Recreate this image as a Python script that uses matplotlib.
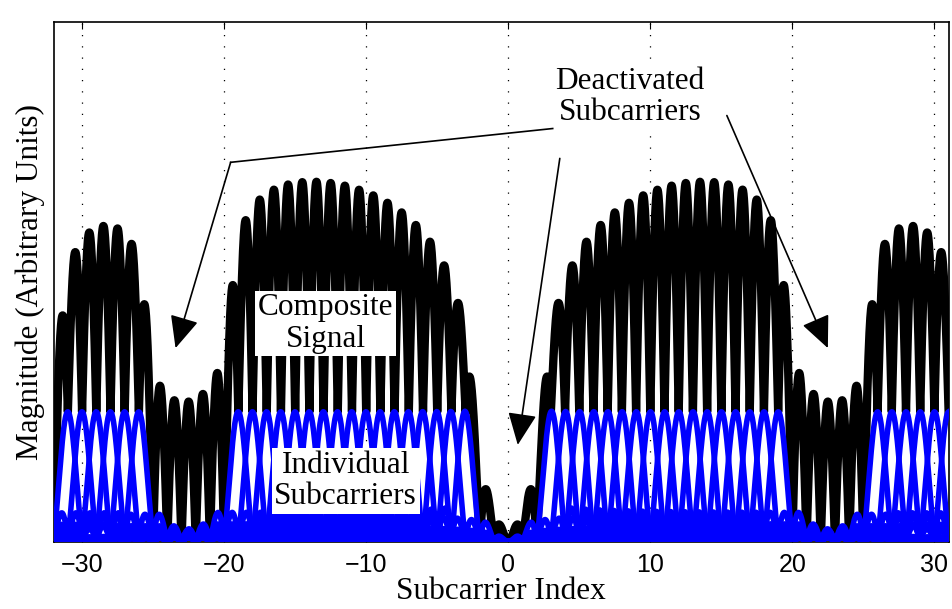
import numpy as np
import matplotlib.pyplot as plt

# positive subcarrier indices that are on (the negative side mirrors them)
active = list(range(3, 20)) + list(range(26, 32))
x_min, x_max = -32, 31
xticks = [-30, -20, -10, 0, 10, 20, 30]

f = np.linspace(x_min, x_max, 6301)

# each real subcarrier gives a sinc lobe at +k and at -k
subs = [np.abs(np.sinc(f - k) + np.sinc(f + k)) for k in active]
composite = np.sum(subs, axis=0)

serif = 'Liberation Serif'
sans = 'Liberation Sans'

fig = plt.figure(figsize=(9.53, 6.09), dpi=100)
ax = fig.add_axes([0.0563, 0.1105, 0.9391, 0.8534])

for t in xticks:
    ax.axvline(t, color='k', lw=0.9, linestyle=(0, (1, 8)), zorder=0)

ax.plot(f, composite, color='k', lw=6, solid_joinstyle='round', zorder=2)
for s in subs:
    ax.plot(f, s, color='#0000ff', lw=4, solid_joinstyle='round', zorder=3)

ax.set_xlim(x_min, x_max)
ax.set_ylim(0, 4)
ax.set_yticks([])
ax.set_xticks(xticks)
ax.tick_params(axis='x', direction='in', top=True, length=5, labelsize=18, pad=8)
for lab in ax.get_xticklabels():
    lab.set_fontfamily(sans)
for sp in ax.spines.values():
    sp.set_linewidth(1.2)

ax.set_xlabel('Subcarrier Index', fontfamily=serif, fontsize=22.5, labelpad=0)
ax.set_ylabel('Magnitude (Arbitrary Units)', fontfamily=serif, fontsize=22.5, labelpad=6)

box = dict(facecolor='white', edgecolor='none', pad=2)
ax.text(-12.85, 1.68, 'Composite\nSignal', ha='center', va='center', fontfamily=serif,
        fontsize=22.5, linespacing=1.1, bbox=box, zorder=5)
ax.text(-11.44, 0.47, 'Individual\nSubcarriers', ha='center', va='center', fontfamily=serif,
        fontsize=22.5, linespacing=1.1, bbox=box, zorder=5)
ax.text(8.56, 3.42, 'Deactivated\nSubcarriers', ha='center', va='center', fontfamily=serif,
        fontsize=22.5, linespacing=1.1, bbox=box, zorder=5)

arrow = dict(arrowstyle='-|>,head_length=1.0,head_width=0.45', color='k', lw=1.2,
             mutation_scale=20, shrinkA=0, shrinkB=0)
ax.plot([3.13, -19.54], [3.18, 2.92], color='k', lw=1.2, zorder=6)
ax.annotate('', xy=(-23.42, 1.49), xytext=(-19.54, 2.92), arrowprops=arrow, zorder=6)
ax.annotate('', xy=(0.67, 0.745), xytext=(3.63, 2.95), arrowprops=arrow, zorder=6)
ax.annotate('', xy=(22.5, 1.49), xytext=(15.39, 3.28), arrowprops=arrow, zorder=6)

fig.savefig('out.png', dpi=100)
